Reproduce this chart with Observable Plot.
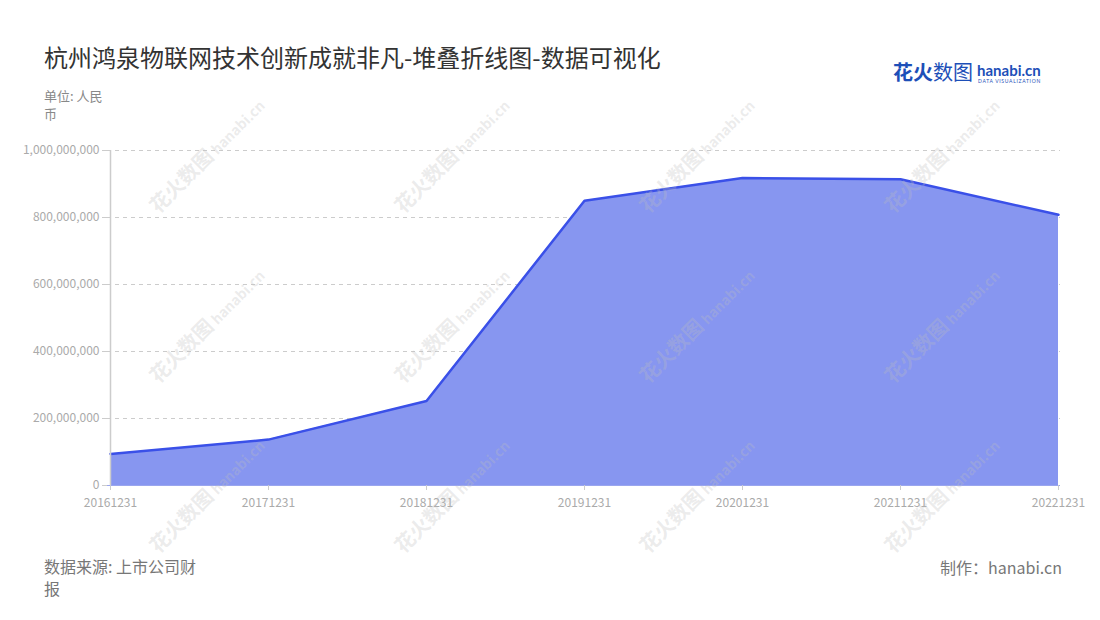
<!DOCTYPE html>
<html><head><meta charset="utf-8">
<script src="https://cdn.jsdelivr.net/npm/d3@7"></script>
<script src="https://cdn.jsdelivr.net/npm/@observablehq/plot@0.6"></script>
<style>
body{margin:0;width:1100px;height:620px;background:#fff;position:relative;overflow:hidden;font-family:"Noto Sans CJK SC","Noto Sans",sans-serif;}
.abs{position:absolute;}
#title{left:44px;top:39px;font-size:24px;color:#333;}
#unit{left:44px;top:87px;font-size:13px;color:#888;width:70px;line-height:18px;}
#src{left:44px;top:555px;font-size:16px;color:#777;width:160px;line-height:22px;}
#made{right:38px;top:555px;font-size:16px;color:#777;}
#chart{left:0;top:120px;}
#logo{left:893px;top:58px;width:160px;height:30px;}
.wm{position:absolute;transform:rotate(-45deg);color:rgba(190,190,190,0.3);font-weight:bold;white-space:nowrap;pointer-events:none;}
</style></head>
<body>
<div id="title" class="abs">杭州鸿泉物联网技术创新成就非凡-堆叠折线图-数据可视化</div>
<div id="unit" class="abs">单位: 人民币</div>
<div id="chart" class="abs"></div>
<div id="src" class="abs">数据来源: 上市公司财报</div>
<div id="made" class="abs">制作：hanabi.cn</div>
<div id="logo" class="abs">
  <span style="position:absolute;left:0;top:0;font-size:20px;line-height:28px;color:#1d4fb8;"><b>花火</b>数图</span>
  <span style="position:absolute;left:84px;top:3px;font-size:15px;line-height:18px;font-weight:bold;color:#1d4fb8;font-family:Lato,sans-serif;">hanabi.cn</span>
  <span style="position:absolute;left:85px;top:20px;font-size:5px;line-height:6px;color:#1d4fb8;letter-spacing:0.7px;font-family:Lato,sans-serif;white-space:nowrap;">DATA VISUALIZATION</span>
</div>
<div id="wms"></div>
<script>
const dates = ["20161231","20171231","20181231","20191231","20201231","20211231","20221231"];
const values = [94000000, 137000000, 252000000, 850000000, 918000000, 914000000, 808000000];
const yTicks = [0, 200000000, 400000000, 600000000, 800000000, 1000000000];

const data = dates.map((d, i) => ({date: d, value: values[i]}));

const chart = Plot.plot({
  width: 1100,
  height: 400,
  marginTop: 30,
  marginBottom: 35,
  marginLeft: 107,
  marginRight: 40,
  style: {fontFamily: "'Noto Sans CJK SC','Noto Sans',sans-serif", fontSize: "12px", color: "#aaa", background: "transparent"},
  x: {type: "point", domain: dates, padding: 0, label: null},
  y: {domain: [0, 1000000000], ticks: yTicks, tickFormat: d3.format(","), label: null},
  marks: [
    Plot.gridY(yTicks.slice(1), {stroke: "#ccc", strokeOpacity: 1, strokeDasharray: "4,4"}),
    Plot.areaY(data, {x: "date", y: "value", fill: "#8796f0", fillOpacity: 1}),
    Plot.lineY(data, {x: "date", y: "value", stroke: "#3a50e8", strokeWidth: 2.5}),
    Plot.ruleY([0], {stroke: "#9aa6ee", strokeWidth: 1}),
    Plot.ruleX([dates[0]], {stroke: "#ccc", strokeWidth: 1.5}),
    Plot.axisX({tickSize: 5, tickPadding: 8, stroke: "#ccc", color: "#aaa", fontSize: 12, label: null}),
    Plot.axisY({ticks: yTicks, tickFormat: d3.format(","), tickSize: 5, tickPadding: 3, stroke: "#ccc", color: "#aaa", fontSize: 12, label: null})
  ]
});
document.getElementById("chart").appendChild(chart);

const wmX = [130, 375, 620, 865];
const wmY = [140, 310, 480];
const wms = document.getElementById("wms");
for (const x of wmX) for (const y of wmY) {
  const d = document.createElement("div");
  d.className = "wm";
  d.style.left = x + "px";
  d.style.top = y + "px";
  d.innerHTML = '<span style="font-size:20px">花火数图</span> <span style="font-size:14px">hanabi.cn</span>';
  wms.appendChild(d);
}
</script>
</body></html>
